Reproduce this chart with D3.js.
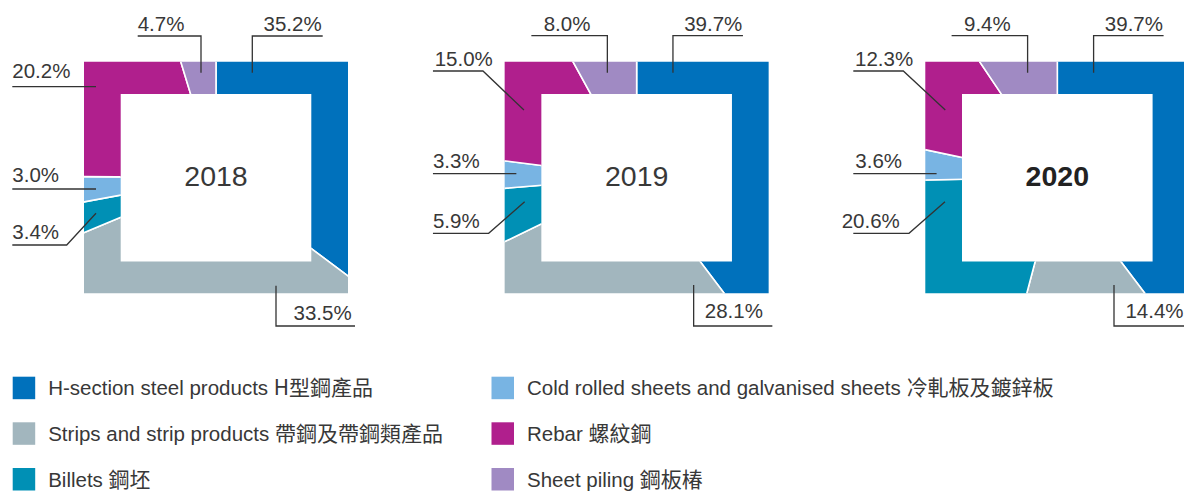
<!DOCTYPE html>
<html>
<head>
<meta charset="utf-8">
<script src="https://cdn.jsdelivr.net/npm/d3@7"></script>
<style>
  body { margin: 0; background: #fff; }
  svg { display: block; }
  text { font-family: "Liberation Sans", "Noto Sans CJK TC", sans-serif; fill: #383838; }
  .zh { font-family: "Noto Sans CJK TC", sans-serif; }
</style>
</head>
<body>
<svg id="chart" width="1184" height="491"></svg>
<script>
// ---- data ----
const years = ["2018", "2019", "2020"];
const categoriesEn = [
  "H-section steel products",
  "Strips and strip products",
  "Billets",
  "Cold rolled sheets and galvanised sheets",
  "Rebar",
  "Sheet piling"
];
const categoriesZh = ["H型鋼產品", "帶鋼及帶鋼類產品", "鋼坯", "冷軋板及鍍鋅板", "螺紋鋼", "鋼板椿"];
const share2018 = [35.2, 33.5, 3.4, 3.0, 20.2, 4.7];
const share2019 = [39.7, 28.1, 5.9, 3.3, 15.0, 8.0];
const share2020 = [39.7, 14.4, 20.6, 3.6, 12.3, 9.4];
const shares = [share2018, share2019, share2020];
const highlightYear = "2020";

// ---- styling & layout ----
const colors = ["#0071bc", "#a2b6be", "#0090b5", "#78b4e3", "#b01f8d", "#a08ac3"];
const boxW = 264, boxH = 231.6, boxTop = 61.7;
const inset = { left: 36.7, right: 36.7, top: 32.3, bottom: 31.7 };

// callout leaders: points and text position relative to each frame's left edge
const calloutLayout = {
  "2018": [
    { pts: [[168.3, 72.7], [168.3, 36], [238.7, 36]], tx: 237.7, ty: 31, anchor: "end" },
    { pts: [[192, 285.7], [192, 326], [271, 326]], tx: 267.7, ty: 320, anchor: "end" },
    { pts: [[12, 213.3], [-17.3, 245], [-71.7, 245]], tx: -71.7, ty: 239 },
    { pts: [[12, 189], [-71.7, 189]], tx: -71.7, ty: 181.7 },
    { pts: [[12, 86.7], [-71.7, 86.7]], tx: -71.7, ty: 77.7 },
    { pts: [[117, 72.7], [117, 36], [53.7, 36]], tx: 53.7, ty: 31 }
  ],
  "2019": [
    { pts: [[168.3, 72.7], [168.3, 35.7], [238.3, 35.7]], tx: 237.7, ty: 31, anchor: "end" },
    { pts: [[189, 285], [189, 326], [267.7, 326]], tx: 258.3, ty: 318.3, anchor: "end" },
    { pts: [[20, 201.7], [-16, 233.3], [-71.7, 233.3]], tx: -71.7, ty: 227.7 },
    { pts: [[11.7, 173.7], [-71.7, 173.7]], tx: -71.7, ty: 168.3 },
    { pts: [[19.3, 110], [-21.7, 71], [-71.7, 71]], tx: -70, ty: 66 },
    { pts: [[102.7, 72.7], [102.7, 35.7], [26.7, 35.7]], tx: 39, ty: 31 }
  ],
  "2020": [
    { pts: [[168.3, 72.7], [168.3, 35.7], [238.3, 35.7]], tx: 237.7, ty: 31, anchor: "end" },
    { pts: [[188.7, 285], [188.7, 326], [272, 326]], tx: 258.3, ty: 318.3, anchor: "end" },
    { pts: [[19.7, 201.7], [-16.3, 233.3], [-72, 233.3]], tx: -83.6, ty: 227.7 },
    { pts: [[11.3, 173.7], [-72, 173.7]], tx: -70, ty: 168.3 },
    { pts: [[20, 110], [-22, 71], [-72, 71]], tx: -70.3, ty: 66 },
    { pts: [[102.3, 72.7], [102.3, 35.7], [26.3, 35.7]], tx: 38.7, ty: 31 }
  ]
};

const svg = d3.select("#chart");
const frameX = d3.scalePoint().domain(years).range([84, 925.3]);
const color = d3.scaleOrdinal().domain(categoriesEn).range(colors);
const pie = d3.pie().sort(null).value(d => d.value).startAngle(0).endAngle(2 * Math.PI);
const arc = d3.arc().innerRadius(0).outerRadius(320);
const line = d3.line();
const fmt = d3.format(".1f");

years.forEach((year, yi) => {
  const L = frameX(year);
  const cx = L + boxW / 2, cy = boxTop + boxH / 2;
  const rows = categoriesEn.map((c, i) => ({ cat: c, value: shares[yi][i] }));

  // rectangular ring used as the clip for the slices
  const clipId = "ring-" + year;
  const innerW = boxW - inset.left - inset.right;
  const innerH = boxH - inset.top - inset.bottom;
  const outer = `M${L},${boxTop}h${boxW}v${boxH}h${-boxW}Z`;
  const inner = `M${L + inset.left},${boxTop + inset.top}h${innerW}v${innerH}h${-innerW}Z`;
  svg.append("clipPath").attr("id", clipId)
    .append("path").attr("d", outer + inner).attr("clip-rule", "evenodd");

  const g = svg.append("g").attr("clip-path", `url(#${clipId})`);
  g.append("g").attr("transform", `translate(${cx},${cy})`)
    .selectAll("path")
    .data(pie(rows))
    .join("path")
    .attr("d", arc)
    .attr("fill", d => color(d.data.cat))
    .attr("stroke", "#fff")
    .attr("stroke-width", 1.6);

  // year in the middle
  svg.append("text")
    .attr("x", cx).attr("y", 185.7)
    .attr("text-anchor", "middle")
    .style("font-size", "28.5px")
    .style("font-weight", year === highlightYear ? "bold" : "normal")
    .style("fill", year === highlightYear ? "#222" : "#383838")
    .text(year);

  // callouts
  const cl = calloutLayout[year];
  rows.forEach((r, i) => {
    const c = cl[i];
    svg.append("path")
      .attr("d", line(c.pts.map(p => [L + p[0], p[1]])))
      .attr("fill", "none")
      .attr("stroke", "#333")
      .attr("stroke-width", 1.3);
    svg.append("text")
      .attr("x", L + c.tx).attr("y", c.ty)
      .attr("text-anchor", c.anchor || "start")
      .style("font-size", "20.5px")
      .text(fmt(r.value) + "%");
  });
});

// legend: two columns of three
const legendCols = [12.7, 491.5];
const legendRows = [376.7, 422.3, 468];
const legend = svg.append("g");
categoriesEn.forEach((c, i) => {
  const x = legendCols[Math.floor(i / 3)];
  const y = legendRows[i % 3];
  legend.append("rect")
    .attr("x", x).attr("y", y)
    .attr("width", 22.5).attr("height", 22.5)
    .attr("fill", color(c));
  const t = legend.append("text")
    .attr("x", x + 35.5).attr("y", y + 18.5)
    .style("font-size", "20.5px");
  t.append("tspan").text(c + " ");
  t.append("tspan").attr("class", "zh").style("font-size", "21px").text(categoriesZh[i]);
});
</script>
</body>
</html>
